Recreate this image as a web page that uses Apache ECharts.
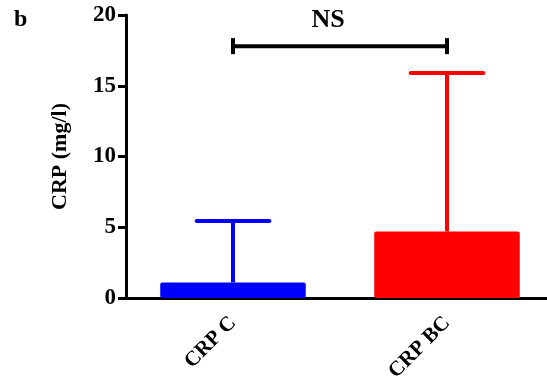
<!DOCTYPE html>
<html><head><meta charset="utf-8">
<script src="https://cdn.jsdelivr.net/npm/echarts@6/dist/echarts.min.js"></script>
<style>html,body{margin:0;padding:0;background:#fff}#c{width:547px;height:383px}</style>
</head><body><div id="c"></div>
<script>
var categories = ['CRP C', 'CRP BC'];
var barValues = [1.1, 4.7];
var errorTops = [5.45, 15.9];
var barColors = ['#0000ff', '#ff0000'];
var yTicks = [0, 5, 10, 15, 20];
var bracketY = 17.8;
var bracketLabel = 'NS';
var panelLabel = 'b';
var yTitle = 'CRP (mg/l)';

var FONT = 'Liberation Serif';
var chart = echarts.init(document.getElementById('c'));
chart.setOption({
  animation: false,
  grid: {left: 126, width: 428, top: 15, height: 283, outerBoundsMode: 'none', containLabel: false},
  graphic: [{type: 'text', left: 14, top: 8, style: {text: panelLabel, font: 'bold 24px "Liberation Serif"', fill: '#000'}}],
  xAxis: {
    type: 'category', data: categories, boundaryGap: true,
    axisLine: {lineStyle: {color: '#000', width: 3}},
    axisTick: {alignWithLabel: true, length: 9, lineStyle: {width: 3, color: '#000'}},
    axisLabel: {rotate: 45, color: '#000', fontFamily: FONT, fontWeight: 'bold', fontSize: 21, margin: 22}
  },
  yAxis: {
    type: 'value', min: yTicks[0], max: yTicks[yTicks.length - 1], interval: 5,
    name: yTitle, nameLocation: 'middle', nameGap: 55,
    nameTextStyle: {color: '#000', fontFamily: FONT, fontWeight: 'bold', fontSize: 22},
    axisLine: {show: true, lineStyle: {color: '#000', width: 3}},
    axisTick: {show: true, length: 8, lineStyle: {width: 3, color: '#000'}},
    axisLabel: {color: '#000', fontFamily: FONT, fontWeight: 'bold', fontSize: 23, margin: 10},
    splitLine: {show: false}
  },
  series: [
    {
      type: 'custom', z: 1,
      data: categories.map(function (c, i) { return [i, barValues[i], errorTops[i]]; }),
      renderItem: function (params, api) {
        var i = api.value(0);
        var base = api.coord([i, api.value(1)]);
        var top = api.coord([i, api.value(2)]);
        var band = api.size([1, 0])[0];
        var half = band * 0.17;
        var col = barColors[i];
        return {type: 'group', children: [
          {type: 'line', shape: {x1: base[0], y1: base[1], x2: top[0], y2: top[1]}, style: {stroke: col, lineWidth: 4}},
          {type: 'line', shape: {x1: top[0] - half, y1: top[1], x2: top[0] + half, y2: top[1]}, style: {stroke: col, lineWidth: 4, lineCap: 'round'}}
        ]};
      }
    },
    {
      type: 'bar', z: 2, barWidth: '68%',
      data: barValues.map(function (v, i) { return {value: v, itemStyle: {color: barColors[i], borderRadius: 2}}; })
    },
    {
      type: 'custom', z: 3,
      data: [[0, 1, bracketY]],
      renderItem: function (params, api) {
        var a = api.coord([api.value(0), api.value(2)]);
        var b = api.coord([api.value(1), api.value(2)]);
        var y = a[1];
        return {type: 'group', children: [
          {type: 'line', shape: {x1: a[0], y1: y, x2: b[0], y2: y}, style: {stroke: '#000', lineWidth: 4}},
          {type: 'line', shape: {x1: a[0], y1: y - 8, x2: a[0], y2: y + 8}, style: {stroke: '#000', lineWidth: 4}},
          {type: 'line', shape: {x1: b[0], y1: y - 8, x2: b[0], y2: y + 8}, style: {stroke: '#000', lineWidth: 4}},
          {type: 'text', x: (a[0] + b[0]) / 2 - 12, y: y - 13, style: {text: bracketLabel, font: 'bold 26px "Liberation Serif"', fill: '#000', align: 'center', verticalAlign: 'bottom'}}
        ]};
      }
    }
  ]
});
</script></body></html>
